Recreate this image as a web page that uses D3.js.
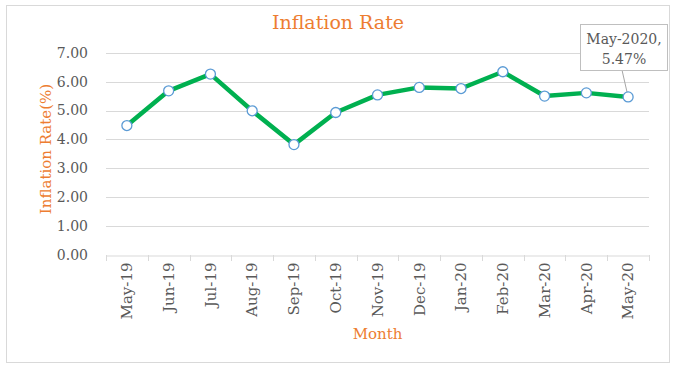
<!DOCTYPE html>
<html><head><meta charset="utf-8">
<script src="https://cdn.jsdelivr.net/npm/d3@7"></script>
<style>
body{margin:0;background:#fff;}
svg text{font-family:"DejaVu Serif",serif;}
</style></head>
<body><svg id="c" width="677" height="369"></svg>
<script>
const months = ["May-19","Jun-19","Jul-19","Aug-19","Sep-19","Oct-19","Nov-19","Dec-19","Jan-20","Feb-20","Mar-20","Apr-20","May-20"];
const inflation = [4.48,5.68,6.26,4.99,3.82,4.93,5.54,5.80,5.76,6.34,5.50,5.61,5.47];
const yTicks = [0,1,2,3,4,5,6,7];
const chartTitle = "Inflation Rate";
const yTitle = "Inflation Rate(%)";
const xTitle = "Month";
const calloutLines = ["May-2020,","5.47%"];

const svg = d3.select("#c");
const orange = "#ED7D31", textGray = "#595959";
svg.append("rect").attr("x",6.5).attr("y",5.5).attr("width",663).attr("height",357)
  .attr("fill","#fff").attr("stroke","#d9d9d9");

const x = d3.scaleBand().domain(months).range([106,649]);
const y = d3.scaleLinear().domain([0,7]).range([255,52.7]);

// gridlines
svg.append("g").selectAll("line").data(yTicks.filter(d=>d>0)).join("line")
  .attr("x1",106).attr("x2",649).attr("y1",d=>Math.round(y(d))+0.5).attr("y2",d=>Math.round(y(d))+0.5)
  .attr("stroke","#d9d9d9").attr("stroke-width",1);

// y axis labels
const ya = svg.append("g").attr("transform","translate(106,0)")
  .call(d3.axisLeft(y).tickValues(yTicks).tickFormat(d3.format(".2f")).tickSize(0).tickPadding(18));
ya.select(".domain").remove();
ya.selectAll("text").attr("fill",textGray).attr("font-size",14).attr("font-family","DejaVu Serif");

// x axis
const xa = svg.append("g").attr("transform","translate(0,255.5)")
  .call(d3.axisBottom(x).tickSize(0));
xa.select(".domain").attr("stroke","#d9d9d9");
xa.selectAll("text").attr("fill",textGray).attr("font-size",15).attr("font-family","DejaVu Serif")
  .attr("transform","rotate(-90)").attr("text-anchor","end").attr("dy","0.35em").attr("x",-7).attr("y",0);
// boundary ticks
const bounds = months.map(m=>x(m)).concat([x(months[months.length-1])+x.bandwidth()]);
svg.append("g").selectAll("line").data(bounds).join("line")
  .attr("x1",d=>Math.round(d)+0.5).attr("x2",d=>Math.round(d)+0.5).attr("y1",255).attr("y2",261)
  .attr("stroke","#d9d9d9");

// line
const cx = d=>x(d)+x.bandwidth()/2;
svg.append("path").datum(months.map((m,i)=>[cx(m),y(inflation[i])]))
  .attr("d",d3.line()).attr("fill","none").attr("stroke","#00B050").attr("stroke-width",4.5)
  .attr("stroke-linejoin","round");

// callout leader
const lastX = cx(months[12]), lastY = y(inflation[12]);
svg.append("line").attr("x1",622).attr("y1",70).attr("x2",lastX).attr("y2",lastY)
  .attr("stroke","#a6a6a6").attr("stroke-width",1);

// markers
svg.append("g").selectAll("circle").data(months).join("circle")
  .attr("cx",d=>cx(d)).attr("cy",(d,i)=>y(inflation[i])).attr("r",5)
  .attr("fill","#fff").attr("stroke","#5B9BD5").attr("stroke-width",1.3);

// callout box
svg.append("rect").attr("x",580.5).attr("y",24.5).attr("width",87).attr("height",46)
  .attr("fill","#fff").attr("stroke","#bfbfbf");
svg.append("g").selectAll("text").data(calloutLines).join("text")
  .attr("x",624).attr("y",(d,i)=>44+i*20).attr("text-anchor","middle")
  .attr("fill",textGray).attr("font-size",14).text(d=>d);

// titles
svg.append("text").attr("x",338).attr("y",29).attr("text-anchor","middle")
  .attr("fill",orange).attr("font-size",19).text(chartTitle);
svg.append("text").attr("transform","translate(51,149) rotate(-90)").attr("text-anchor","middle")
  .attr("fill",orange).attr("font-size",15).text(yTitle);
svg.append("text").attr("x",377.5).attr("y",339).attr("text-anchor","middle")
  .attr("fill",orange).attr("font-size",15).text(xTitle);
</script></body></html>
